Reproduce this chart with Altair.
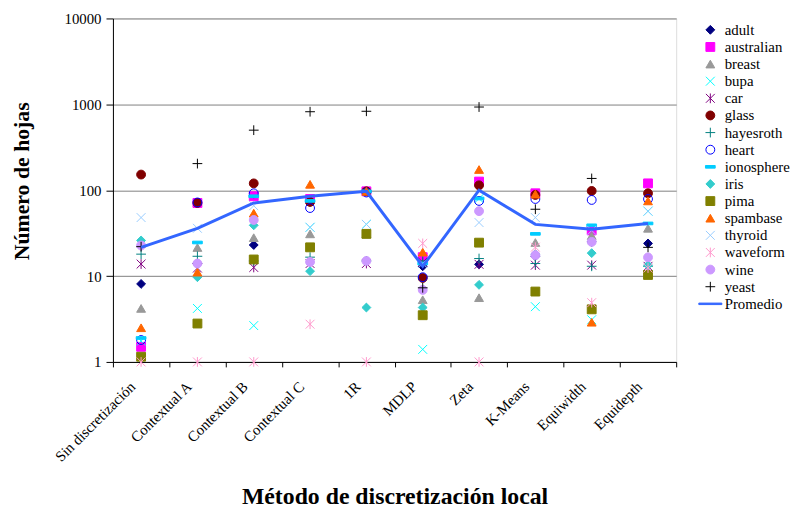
import altair as alt
import pandas as pd

methods = ["Sin discretización", "Contextual A", "Contextual B", "Contextual C", "1R",
           "MDLP", "Zeta", "K-Means", "Equiwidth", "Equidepth"]

adult      = [8.1, 14, 23, 73, 97, 13, 13.7, 17, 25, 24]
australian = [1.5, 71, 85, 79, 97, 16.6, 126, 92, 34, 120]
breast     = [4.2, 21.5, 28, 31, 31, 5.3, 5.6, 24.6, 29.6, 36]
bupa       = [1.75, 4.2, 2.65, 37, 40, 1.4, 80, 4.4, 3.1, 57]
car        = [13.8, 12.4, 12.6, 14, 14, 14.5, 13.7, 13.4, 13.4, 13]
glass      = [152, 71, 120, 73, 97, 9.5, 114, 88, 98, 92]
hayesroth  = [18, 17, 15, 16.6, 15, 15, 16, 14, 13, 13]
heart      = [1.8, 72, 92, 62, 94, 9.7, 75, 79, 77, 79]
ionosphere = [1.9, 24.6, 85, 75, 97, 14, 80, 31, 39, 41]
iris       = [26, 9.7, 39, 11.4, 4.3, 4.3, 7.9, 18, 18.5, 13.4]
pima       = [1.15, 2.8, 15.6, 21.6, 31, 3.5, 24.5, 6.6, 4.1, 10.3]
spambase   = [2.5, 11.1, 54, 117, 97, 19, 174, 90, 2.9, 75]
thyroid    = [48, 36, 66, 37, 40, 14, 42, 48, 34, 57]
waveform   = [1.0, 1.0, 1.0, 2.75, 1.0, 24, 1.0, 21.7, 4.9, 12.4]
wine       = [22.7, 14, 45, 14.6, 15, 6.9, 57, 17.5, 25, 16.5]
yeast      = [22, 204, 500, 820, 830, 7.3, 930, 60, 137, 21.6]
promedio   = [21.6, 36, 71, 85, 97, 13, 100, 40, 35, 41]

series_names = ["adult", "australian", "breast", "bupa", "car", "glass", "hayesroth", "heart",
                "ionosphere", "iris", "pima", "spambase", "thyroid", "waveform", "wine", "yeast"]
series_values = [adult, australian, breast, bupa, car, glass, hayesroth, heart,
                 ionosphere, iris, pima, spambase, thyroid, waveform, wine, yeast]

legend_names = series_names + ["Promedio"]
stroke_colors = ["#000080", "#FF00FF", "#999999", "#00FFFF", "#800080", "#800000", "#008080", "#0000FF",
                 "#00CCFF", "#33CCCC", "#808000", "#FF6600", "#99CCFF", "#FF99CC", "#CC99FF", "#000000",
                 "#3366FF"]
fill_colors = ["#000080", "#FF00FF", "#999999", "transparent", "transparent", "#800000", "transparent",
               "transparent", "#00CCFF", "#33CCCC", "#808000", "#FF6600", "transparent", "transparent",
               "#CC99FF", "transparent", "#3366FF"]
X_PATH = "M-1,-1L1,1M-1,1L1,-1"
STAR_PATH = "M-1,-1L1,1M-1,1L1,-1M0,-1.1L0,1.1"
PLUS_PATH = "M-1.1,0L1.1,0M0,-1.1L0,1.1"
DASH_PATH = "M-1.1,-0.3L1.1,-0.3L1.1,0.3L-1.1,0.3Z"
LINE_PATH = "M-2.6,-0.17L2.6,-0.17L2.6,0.17L-2.6,0.17Z"
shapes = ["diamond", "square", "triangle-up", X_PATH, STAR_PATH, "circle", PLUS_PATH, "circle",
          DASH_PATH, "diamond", "square", "triangle-up", X_PATH, STAR_PATH, "circle", PLUS_PATH,
          LINE_PATH]

rows = []
for order, (name, vals) in enumerate(zip(series_names, series_values)):
    for m, v in zip(methods, vals):
        rows.append({"serie": name, "method": m, "value": v, "order": order})
points_df = pd.DataFrame(rows)
avg_df = pd.DataFrame({"method": methods, "value": promedio})

FONT = "Liberation Serif"

x_enc = alt.X("method:N", sort=methods,
              scale=alt.Scale(type="band", domain=methods, paddingInner=0, paddingOuter=0),
              axis=alt.Axis(title="Método de discretización local", labelAngle=315, labelAlign="right",
                            labelBaseline="middle", tickBand="extent", tickSize=5, labelPadding=17,
                            labelOffset=-9,
                            labelFont=FONT, labelFontSize=15, labelColor="black", labelOverlap=False,
                            labelLimit=300, titleFont=FONT, titleFontSize=24, titleFontWeight="bold",
                            titleColor="black", titlePadding=21, domainColor="black",
                            tickColor="black", grid=False))
y_enc = alt.Y("value:Q",
              scale=alt.Scale(type="log", domain=[1, 10000], nice=False),
              axis=alt.Axis(title="Número de hojas", values=[1, 10, 100, 1000, 10000], format="d",
                            grid=True, gridColor="#808080", gridOpacity=1, gridWidth=1,
                            tickSize=7, labelPadding=5, labelFont=FONT, labelFontSize=15,
                            labelColor="black", titleFont=FONT, titleFontSize=22,
                            titleFontWeight="bold", titleColor="black", titlePadding=31,
                            titleY=164, domainColor="black", tickColor="black"))

leg = alt.Legend(orient="none", legendX=596, legendY=4, title=None, labelFont=FONT,
                 labelFontSize=15, labelColor="black", symbolSize=80, symbolStrokeWidth=1,
                 rowPadding=1.3, labelOffset=7, padding=0, labelLimit=200)

points = alt.Chart(points_df).mark_point(size=80, strokeWidth=1, opacity=1).encode(
    x=x_enc,
    y=y_enc,
    fill=alt.Fill("serie:N", scale=alt.Scale(domain=legend_names, range=fill_colors), legend=leg),
    stroke=alt.Stroke("serie:N", scale=alt.Scale(domain=legend_names, range=stroke_colors), legend=leg),
    shape=alt.Shape("serie:N", scale=alt.Scale(domain=legend_names, range=shapes), legend=leg),
    order=alt.Order("order:Q"),
)

line = alt.Chart(avg_df).mark_line(strokeWidth=3, color="#3366FF").encode(
    x=alt.X("method:N", sort=methods),
    y=alt.Y("value:Q"),
)

chart = alt.layer(points, line).properties(
    width=569, height=347,
    autosize=alt.AutoSizeParams(type="none"),
    padding={"left": 106, "top": 8, "right": 117, "bottom": 145},
).configure_view(stroke="#808080", strokeWidth=1).configure(
    background="white", font=FONT
).configure_legend(labelFont=FONT, labelFontSize=15, labelColor="black")

chart.save("out.html", embed_options={"renderer": "svg", "actions": False})
